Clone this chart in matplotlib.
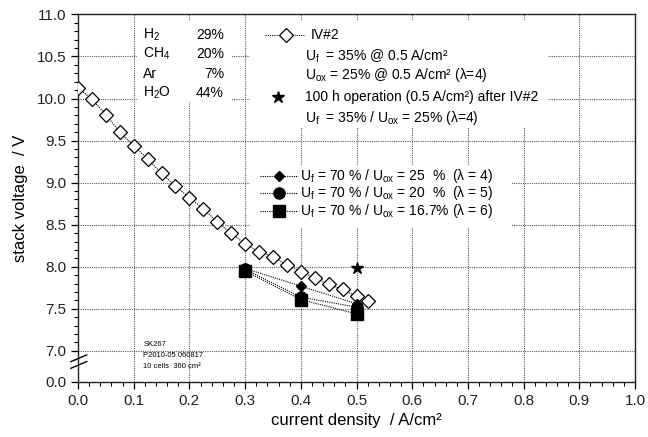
import matplotlib
matplotlib.use("Agg")
import matplotlib.pyplot as plt
import numpy as np
from matplotlib.ticker import FixedLocator, MultipleLocator

plt.rcParams['font.family'] = ['Liberation Sans', 'DejaVu Sans']
plt.rcParams['mathtext.fontset'] = 'custom'
plt.rcParams['mathtext.rm'] = 'Liberation Sans'
plt.rcParams['mathtext.it'] = 'Liberation Sans'
plt.rcParams['mathtext.default'] = 'rm'

# IV curve #2 (open diamonds)
iv_j = [0.0, 0.025, 0.05, 0.075, 0.1, 0.125, 0.15, 0.175, 0.2, 0.225, 0.25,
        0.275, 0.3, 0.325, 0.35, 0.375, 0.4, 0.425, 0.45, 0.475, 0.5, 0.52]
iv_u = [10.13, 9.99, 9.81, 9.60, 9.44, 9.28, 9.11, 8.96, 8.82, 8.69, 8.53,
        8.40, 8.27, 8.18, 8.12, 8.02, 7.94, 7.87, 7.79, 7.73, 7.65, 7.59]

# Uf = 70 % series
uf70_j = [0.3, 0.4, 0.5]
u_lam4 = [7.98, 7.77, 7.56]
u_lam5 = [7.97, 7.64, 7.52]
u_lam6 = [7.95, 7.61, 7.44]

# 100 h operation point
star_j = [0.5]
star_u = [7.99]

gas_names = ['H$_2$', 'CH$_4$', 'Ar', 'H$_2$O']
gas_pct = ['29%', '20%', '7%', '44%']

y_major = [7.0, 7.5, 8.0, 8.5, 9.0, 9.5, 10.0, 10.5, 11.0]
y_zero = 7.0 - 31 / 84  # position of the "0.0" label below the axis break

fig = plt.figure(figsize=(6.48, 4.37), dpi=100)
ax = fig.add_axes([0.1204, 0.126, 0.8596, 0.841])

ax.set_xlim(0, 1.0)
ax.set_ylim(y_zero, 11.0)

grid_kw = dict(color='0.35', lw=0.8, ls=(0, (1, 1)), zorder=0)
for xv in np.arange(0.1, 1.0, 0.1):
    ax.axvline(xv, **grid_kw)
for yv in y_major[:-1]:
    ax.axhline(yv, **grid_kw)

# white boxes hiding the grid behind the annotations
for (x0, y0, w, h) in [(0.106, 0.762, 0.171, 0.223),
                       (0.309, 0.691, 0.535, 0.294),
                       (0.309, 0.419, 0.470, 0.171)]:
    ax.add_patch(plt.Rectangle((x0, y0), w, h, transform=ax.transAxes,
                               facecolor='white', edgecolor='none', zorder=1))

line_kw = dict(color='black', lw=0.8, ls=(0, (1, 1)))
ax.plot(iv_j, iv_u, marker='D', ms=7, mfc='white', mec='black', mew=0.9,
        zorder=3, **line_kw)
ax.plot(uf70_j, u_lam6, marker='s', ms=8, mfc='black', mec='black', zorder=4, **line_kw)
ax.plot(uf70_j, u_lam5, marker='o', ms=8, mfc='black', mec='black', zorder=4, **line_kw)
ax.plot(uf70_j, u_lam4, marker='D', ms=5, mfc='black', mec='black', zorder=4, **line_kw)
ax.plot(star_j, star_u, ls='none', marker='*', ms=9, color='black', zorder=4)

# axes, ticks
ax.xaxis.set_major_locator(MultipleLocator(0.1))
ax.xaxis.set_minor_locator(MultipleLocator(0.02))
ax.set_xticks(np.arange(0, 1.01, 0.1))
ax.set_xticklabels(['%.1f' % v for v in np.arange(0, 1.01, 0.1)])
ax.set_yticks([y_zero] + y_major)
ax.set_yticklabels(['0.0'] + ['%.1f' % v for v in y_major])
ax.yaxis.set_minor_locator(FixedLocator(np.arange(7.0, 11.001, 0.1)))
ax.tick_params(which='major', direction='out', length=5, width=0.9, labelsize=11,
               colors='black', labelcolor='#222222')
ax.tick_params(which='minor', direction='out', length=3, width=0.8)
for s in ax.spines.values():
    s.set_linewidth(1.0)
    s.set_color('#222222')

ax.set_xlabel('current density  / A/cm²', fontsize=12, labelpad=4)
ax.set_ylabel('stack voltage  / V', fontsize=12, labelpad=6)

# axis break
for dy in (0.0, 0.018):
    ax.plot([-0.0131, 0.0156], [0.037 + dy, 0.0555 + dy], transform=ax.transAxes,
            color='black', lw=1.0, clip_on=False, zorder=6)

# gas composition
for i, (n, p) in enumerate(zip(gas_names, gas_pct)):
    yy = 0.945 - i * 0.053
    ax.text(0.117, yy, n, transform=ax.transAxes, fontsize=10, va='center', zorder=5)
    ax.text(0.262, yy, p, transform=ax.transAxes, fontsize=10, va='center', ha='right', zorder=5)

# legend 1
tk = dict(transform=ax.transAxes, fontsize=10, va='center', zorder=5)
ax.plot([0.336, 0.408], [0.944, 0.944], transform=ax.transAxes, marker='None', zorder=5, **line_kw)
ax.plot([0.373], [0.944], transform=ax.transAxes, marker='D', ms=7, mfc='white',
        mec='black', mew=0.9, ls='none', zorder=6)
ax.text(0.417, 0.944, 'IV#2', **tk)
ax.text(0.408, 0.887, 'U$_\\mathregular{f}$  = 35% @ 0.5 A/cm²', **tk)
ax.text(0.408, 0.835, 'U$_\\mathregular{ox}$ = 25% @ 0.5 A/cm² (λ=4)', **tk)
ax.plot([0.359], [0.774], transform=ax.transAxes, marker='*', ms=9, color='black',
        ls='none', zorder=6)
ax.text(0.408, 0.774, '100 h operation (0.5 A/cm²) after IV#2', **tk)
ax.text(0.408, 0.717, 'U$_\\mathregular{f}$  = 35% / U$_\\mathregular{ox}$ = 25% (λ=4)', **tk)

# legend 2
leg2 = [('D', 5, 'U$_\\mathregular{f}$ = 70 % / U$_\\mathregular{ox}$ = 25  %  (λ = 4)'),
        ('o', 8, 'U$_\\mathregular{f}$ = 70 % / U$_\\mathregular{ox}$ = 20  %  (λ = 5)'),
        ('s', 8, 'U$_\\mathregular{f}$ = 70 % / U$_\\mathregular{ox}$ = 16.7% (λ = 6)')]
for i, (m, ms, lab) in enumerate(leg2):
    yy = 0.561 - i * 0.0475
    ax.plot([0.327, 0.395], [yy, yy], transform=ax.transAxes, zorder=5, **line_kw)
    ax.plot([0.361], [yy], transform=ax.transAxes, marker=m, ms=ms, color='black',
            ls='none', zorder=6)
    ax.text(0.399, yy, lab, **tk)

# sample info
for i, s in enumerate(['SK267', 'P2010-05 060817', '10 cells  360 cm²']):
    ax.text(0.117, 0.103 - i * 0.03, s, transform=ax.transAxes, fontsize=5.5,
            va='center', zorder=5)

fig.savefig('out.png', dpi=100)
